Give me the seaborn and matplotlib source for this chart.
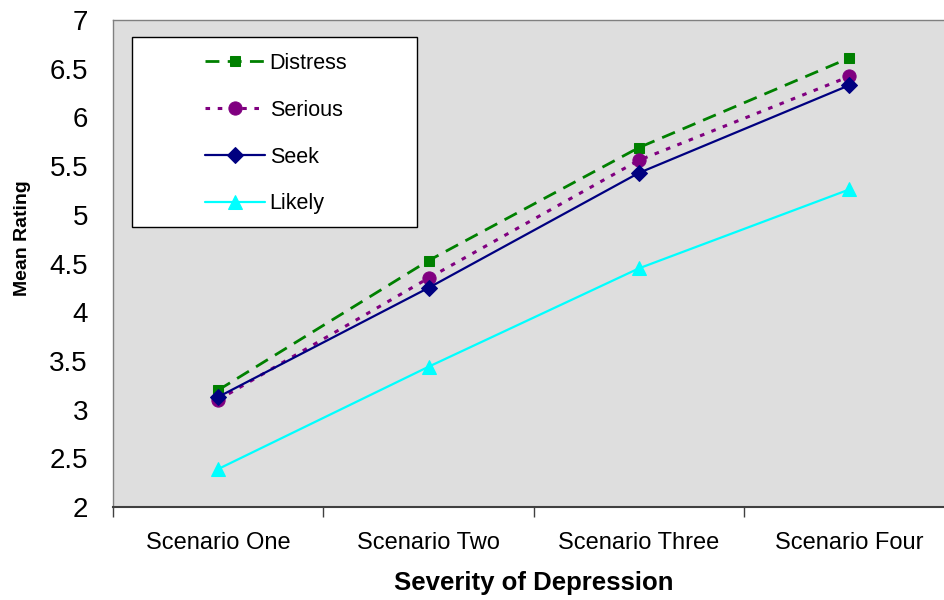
import matplotlib
matplotlib.use("Agg")
import matplotlib.pyplot as plt
from matplotlib.patches import Rectangle
import seaborn as sns
import pandas as pd

categories = ["Scenario One", "Scenario Two", "Scenario Three", "Scenario Four"]
distress = [3.20, 4.53, 5.69, 6.61]
serious = [3.10, 4.35, 5.56, 6.42]
seek = [3.13, 4.25, 5.43, 6.33]
likely = [2.39, 3.44, 4.45, 5.26]
y_ticks = [2, 2.5, 3, 3.5, 4, 4.5, 5, 5.5, 6, 6.5, 7]

sns.set_theme(style="white")
plt.rcParams['font.family'] = ['Liberation Sans', 'DejaVu Sans']
plt.rcParams['text.color'] = 'black'
plt.rcParams['axes.labelcolor'] = 'black'
plt.rcParams['xtick.color'] = 'black'
plt.rcParams['ytick.color'] = 'black'

series = {"Distress": distress, "Serious": serious, "Seek": seek, "Likely": likely}
rows = []
for name, vals in series.items():
    for i, (c, v) in enumerate(zip(categories, vals)):
        rows.append({"Scenario": c, "idx": i, "Measure": name, "Rating": v})
df = pd.DataFrame(rows)

styles = {
    "Distress": dict(color="#008000", marker="s", ls=(0, (5, 3)), ms=6.5, lw=2),
    "Serious": dict(color="#800080", marker="o", ls=(0, (1.5, 2.5)), ms=9.5, lw=2.2),
    "Seek": dict(color="#000080", marker="D", ls="-", ms=8, lw=1.6),
    "Likely": dict(color="#00FFFF", marker="^", ls="-", ms=10, lw=1.6),
}

W, H = 945, 600
fig = plt.figure(figsize=(9.45, 6.0), dpi=100)
ax = fig.add_axes([113/W, 1 - 507/H, 1 - 113/W + 0.01, (507 - 20)/H])
ax.set_facecolor("#dedede")

for name in series:
    sub = df[df["Measure"] == name]
    st = styles[name]
    sns.lineplot(data=sub, x="idx", y="Rating", ax=ax, color=st["color"],
                 marker=st["marker"], markersize=st["ms"], linestyle=st["ls"],
                 linewidth=st["lw"], markeredgecolor=st["color"], label=name,
                 errorbar=None, zorder=3)

ax.set_xlim(-0.5, 3.5)
ax.set_ylim(2, 7)
ax.set_yticks(y_ticks)
ax.set_yticklabels([f"{t:g}" for t in y_ticks], fontsize=20)
ax.set_xticks([0, 1, 2, 3])
ax.set_xticklabels(categories, fontsize=17)
ax.set_xticks([-0.5, 0.5, 1.5, 2.5, 3.5], minor=True)
ax.tick_params(axis="x", which="major", length=0, pad=18)
ax.tick_params(axis="x", which="minor", length=7, width=1, color="#404040", direction="out", bottom=True)
ax.tick_params(axis="y", which="major", length=0, pad=18)

for side in ["top", "left"]:
    ax.spines[side].set_color("#808080")
    ax.spines[side].set_linewidth(1)
ax.spines["bottom"].set_color("#404040")
ax.spines["bottom"].set_linewidth(1.5)
ax.spines["right"].set_visible(False)

ax.set_xlabel("Severity of Depression", fontsize=18.5, fontweight="bold", labelpad=12)
ax.set_ylabel("Mean Rating", fontsize=14, fontweight="bold")
ax.yaxis.set_label_coords(-(113 - 32) / 832, (507 - 238) / 487)

# legend box
ax.add_patch(Rectangle((132/W, 1 - 227/H), (417 - 132)/W, (227 - 37)/H,
                       transform=fig.transFigure, facecolor="white",
                       edgecolor="black", linewidth=1, zorder=4, clip_on=False))
leg = ax.legend(loc="upper left", bbox_to_anchor=(205/W, 1 - 53/H),
                bbox_transform=fig.transFigure,
                frameon=False, fontsize=15.5, handlelength=2.8,
                labelspacing=1.2, borderpad=0, handletextpad=0.2,
                borderaxespad=0)
leg.set_zorder(5)

fig.savefig("out.png", dpi=100)
